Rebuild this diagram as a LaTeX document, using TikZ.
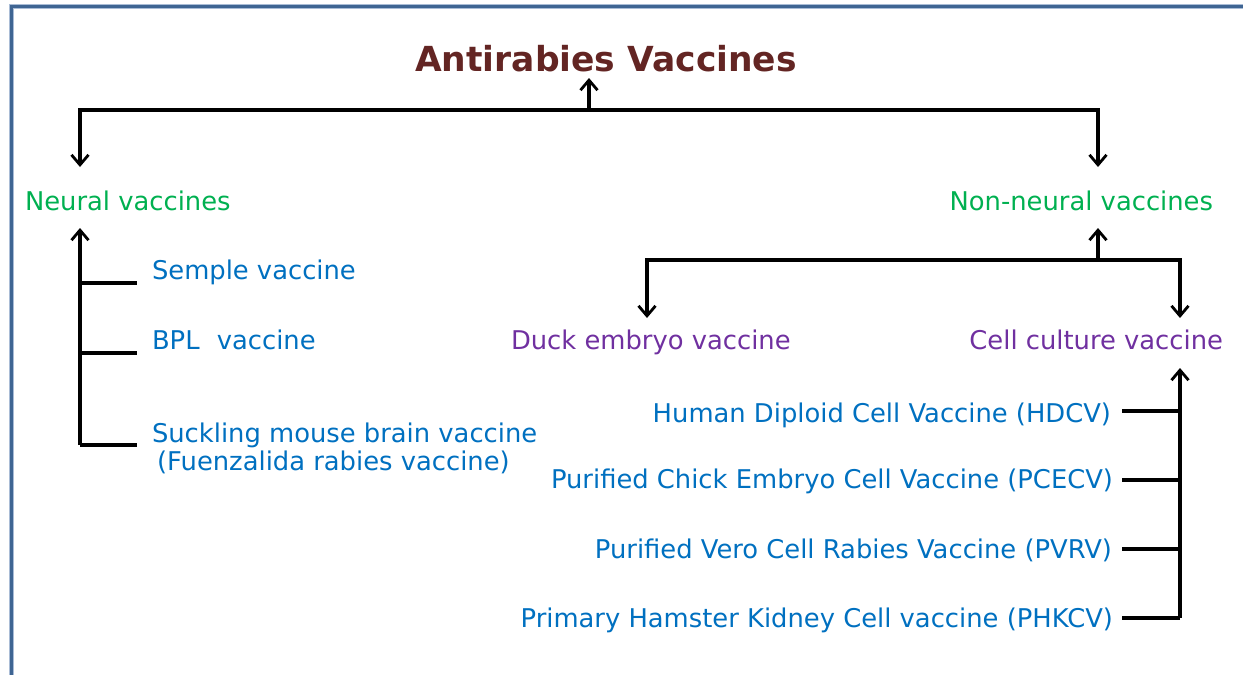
\documentclass[tikz,border=0pt]{standalone}
\usepackage{fontspec}
\setmainfont{DejaVu Sans}
\usetikzlibrary{arrows.meta}
\definecolor{frameblue}{HTML}{3F6593}
\definecolor{framelight}{HTML}{A9BCD6}
\definecolor{titlered}{HTML}{632523}
\definecolor{grn}{HTML}{00B050}
\definecolor{blu}{HTML}{0070C0}
\definecolor{pur}{HTML}{7030A0}
\begin{document}
\begin{tikzpicture}[x=1pt,y=-1pt,
  every node/.style={inner sep=0pt,outer sep=0pt},
  body/.style={font=\fontsize{25.8}{28}\selectfont},
  ttl/.style={font=\fontsize{34.5}{40}\selectfont\bfseries,text=titlered},
  cat/.style={body,text=grn},
  sub/.style={body,text=pur},
  item/.style={body,text=blu},
  link/.style={line width=3.3pt,black},
  arr/.style={link,-{Straight Barb[length=10pt,width=17pt,line width=2.8pt]}}]
\useasboundingbox (0,0) rectangle (1243,675);
% frame
\draw[framelight,line width=5.5pt] (11.5,700) -- (11.5,6.5) -- (1260,6.5);
\draw[frameblue,line width=3.5pt] (11.5,700) -- (11.5,6.5) -- (1260,6.5);
% texts
\node[ttl,anchor=base] (t) at (606,71) {Antirabies Vaccines};
\node[cat,anchor=base west] (nv) at (25,210) {Neural vaccines};
\node[cat,anchor=base east] (nn) at (1213,210) {Non-neural vaccines};
\node[item,anchor=base west] (s1) at (152,279) {Semple vaccine};
\node[item,anchor=base west] (s2) at (152,349) {BPL\hspace{0.35em} vaccine};
\node[item,anchor=base west,align=left] (s3) at (152,470) {Suckling mouse brain vaccine\\\hspace{0.2em}(Fuenzalida rabies vaccine)};
\node[sub,anchor=base west] (de) at (511,349) {Duck embryo vaccine};
\node[sub,anchor=base east] (cc) at (1223,349) {Cell culture vaccine};
\node[item,anchor=base east] (c1) at (1111,422) {Human Diploid Cell Vaccine (HDCV)};
\node[item,anchor=base east] (c2) at (1113,488) {Purified Chick Embryo Cell Vaccine (PCECV)};
\node[item,anchor=base east] (c3) at (1112,558) {Purified Vero Cell Rabies Vaccine (PVRV)};
\node[item,anchor=base east] (c4) at (1113,627) {Primary Hamster Kidney Cell vaccine (PHKCV)};
% top bus
\coordinate (tb) at (589,110);
\coordinate (tt) at (589,78);
\coordinate (tl) at (80,110);
\coordinate (tr) at (1098,110);
\coordinate (nvt) at (80,167);
\coordinate (nnt) at (1098,167);
\draw[arr] (tb) -- (tt);
\draw[arr] (tb) -- (tl) -- (nvt);
\draw[arr] (tb) -- (tr) -- (nnt);
% neural
\coordinate (nvb) at (80,228);
\coordinate (l1) at (80,283);
\coordinate (l2) at (80,353);
\coordinate (l3) at (80,445);
\coordinate (e1) at (137,283);
\coordinate (e2) at (137,353);
\coordinate (e3) at (137,445);
\draw[arr] (l3) -- (nvb);
\draw[link] (l1) -- (e1);
\draw[link] (l2) -- (e2);
\draw[link] (l3) -- (e3);
% non-neural
\coordinate (nnb) at (1098,228);
\coordinate (rb) at (1098,260);
\coordinate (rl) at (647,260);
\coordinate (rr) at (1180,260);
\coordinate (det) at (647,318);
\coordinate (cct) at (1180,318);
\draw[arr] (rb) -- (nnb);
\draw[arr] (rb) -- (rl) -- (det);
\draw[arr] (rb) -- (rr) -- (cct);
% cell culture
\coordinate (ccb) at (1180,368);
\coordinate (r1) at (1180,411);
\coordinate (r2) at (1180,480);
\coordinate (r3) at (1180,549);
\coordinate (r4) at (1180,618);
\coordinate (f1) at (1122,411);
\coordinate (f2) at (1122,480);
\coordinate (f3) at (1122,549);
\coordinate (f4) at (1122,618);
\draw[arr] (r4) -- (ccb);
\draw[link] (r1) -- (f1);
\draw[link] (r2) -- (f2);
\draw[link] (r3) -- (f3);
\draw[link] (r4) -- (f4);
\end{tikzpicture}
\end{document}
